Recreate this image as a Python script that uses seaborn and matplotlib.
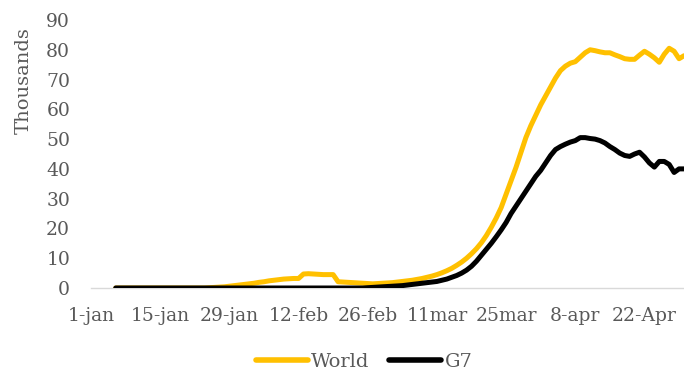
import numpy as np
import pandas as pd
import matplotlib
matplotlib.use("Agg")
import matplotlib.pyplot as plt
import seaborn as sns

# Daily new cases (thousands), 6 Jan 2020 - 30 Apr 2020
dates = pd.date_range("2020-01-06", "2020-04-30", freq="D")

world = [
    0, 0, 0, 0, 0, 0, 0, 0, 0, 0,            # 6-15 Jan
    0, 0, 0, 0, 0, 0, 0, 0, 0,               # 16-24 Jan
    0.1, 0.2, 0.3, 0.4, 0.6, 0.8, 1.0, 1.2,  # 25 Jan - 1 Feb
    1.4, 1.6, 1.9, 2.1, 2.4, 2.6, 2.8, 3.0,  # 2-9 Feb
    3.1, 3.2, 3.2,                           # 10-12 Feb
    4.7, 4.8, 4.7, 4.6, 4.5, 4.5, 4.5,       # 13-19 Feb
    2.1, 2.0, 1.9, 1.8, 1.7, 1.6, 1.5, 1.4,  # 20-27 Feb
    1.5, 1.6, 1.7, 1.8, 2.0, 2.2, 2.4, 2.6,  # 28 Feb - 6 Mar
    2.9, 3.2, 3.6, 4.0, 4.5, 5.1, 5.8, 6.6,  # 7-14 Mar
    7.6, 8.7, 10.0, 11.5, 13.2, 15.2, 17.6,  # 15-21 Mar
    20.4, 23.5, 27.0, 31.5, 36.0, 40.5,      # 22-27 Mar
    45.5, 50.5, 54.5, 58.0, 61.5, 64.5,      # 28 Mar - 2 Apr
    67.5, 70.5, 73.0, 74.5, 75.5, 76.0,      # 3-8 Apr
    77.5, 79.0, 80.0, 79.7, 79.3, 79.0,      # 9-14 Apr
    79.0, 78.3, 77.7, 77.0, 76.8, 76.8,      # 15-20 Apr
    78.2, 79.5, 78.5, 77.3, 75.8, 78.5,      # 21-26 Apr
    80.5, 79.5, 77.0, 78.0,                  # 27-30 Apr
]

g7 = [
    0, 0, 0, 0, 0, 0, 0, 0, 0, 0,            # 6-15 Jan
    0, 0, 0, 0, 0, 0, 0, 0, 0,               # 16-24 Jan
    0, 0, 0, 0, 0, 0, 0, 0,                  # 25 Jan - 1 Feb
    0, 0, 0, 0, 0, 0, 0, 0,                  # 2-9 Feb
    0, 0, 0,                                 # 10-12 Feb
    0, 0, 0, 0, 0, 0, 0,                     # 13-19 Feb
    0, 0, 0, 0, 0, 0, 0.1, 0.2,              # 20-27 Feb
    0.3, 0.4, 0.5, 0.6, 0.7, 0.8, 1.0, 1.2,  # 28 Feb - 6 Mar
    1.4, 1.6, 1.8, 2.0, 2.2, 2.6, 3.0, 3.6,  # 7-14 Mar
    4.2, 5.0, 6.0, 7.3, 9.0, 11.0, 13.0,     # 15-21 Mar
    15.0, 17.2, 19.5, 22.0, 25.0, 27.5,      # 22-27 Mar
    30.0, 32.5, 35.0, 37.5, 39.5, 42.0,      # 28 Mar - 2 Apr
    44.5, 46.5, 47.5, 48.3, 49.0, 49.5,      # 3-8 Apr
    50.5, 50.5, 50.2, 50.0, 49.5, 48.7,      # 9-14 Apr
    47.5, 46.5, 45.3, 44.5, 44.2, 45.0,      # 15-20 Apr
    45.6, 44.0, 42.0, 40.6, 42.5, 42.5,      # 21-26 Apr
    41.5, 38.8, 40.0,                        # 27-29 Apr
    40.0,                                    # 30 Apr
]

tick_dates = ["2020-01-01", "2020-01-15", "2020-01-29", "2020-02-12",
              "2020-02-26", "2020-03-11", "2020-03-25", "2020-04-08",
              "2020-04-22"]
tick_labels = ["1-jan", "15-jan", "29-jan", "12-feb", "26-feb",
               "11mar", "25mar", "8-apr", "22-Apr"]
y_ticks = [0, 10, 20, 30, 40, 50, 60, 70, 80, 90]

series_names = ["World", "G7"]
series_colors = ["#FFC000", "#000000"]

df = pd.DataFrame({"date": dates, "World": world, "G7": g7})
long = df.melt(id_vars="date", var_name="series", value_name="cases")

sns.set_theme(style="white")
plt.rcParams["font.family"] = ["DejaVu Serif"]
text_color = "#595959"

fig = plt.figure(figsize=(6.84, 3.75), dpi=100)
ax = fig.add_axes([91 / 684, 87 / 375, 1 - 91 / 684, 268 / 375])

sns.lineplot(data=long, x="date", y="cases", hue="series",
             hue_order=series_names, palette=series_colors,
             linewidth=3.6, ax=ax, legend=False)
for line in ax.lines:
    line.set_solid_capstyle("round")
    line.set_solid_joinstyle("round")

ax.set_xlim(pd.Timestamp("2020-01-01"), pd.Timestamp("2020-04-30"))
ax.set_ylim(0, 90)
ax.set_xticks(pd.to_datetime(tick_dates))
ax.set_xticklabels(tick_labels)
ax.set_yticks(y_ticks)
ax.set_yticklabels([str(v) for v in y_ticks])
ax.tick_params(axis="both", length=0, labelsize=13.5, colors=text_color)
ax.tick_params(axis="y", pad=15)
ax.tick_params(axis="x", pad=14)
ax.set_xlabel("")
ax.set_ylabel("")

for side in ["top", "right", "left"]:
    ax.spines[side].set_visible(False)
ax.spines["bottom"].set_color("#D9D9D9")
ax.spines["bottom"].set_linewidth(1.0)
ax.spines["bottom"].set_zorder(0)

fig.text(24 / 684, 1 - 81 / 375, "Thousands", rotation=90,
         ha="center", va="center", fontsize=14, color=text_color)

handles = [plt.Line2D([], [], color=c, linewidth=4, solid_capstyle="round")
           for c in series_colors]
fig.legend(handles, series_names, loc="center",
           bbox_to_anchor=(364 / 684, 1 - 362 / 375), ncol=2, frameon=False,
           fontsize=14, labelcolor=text_color, handlelength=2.7,
           handletextpad=0.15, columnspacing=1.0)

fig.savefig("out.png", dpi=100)
